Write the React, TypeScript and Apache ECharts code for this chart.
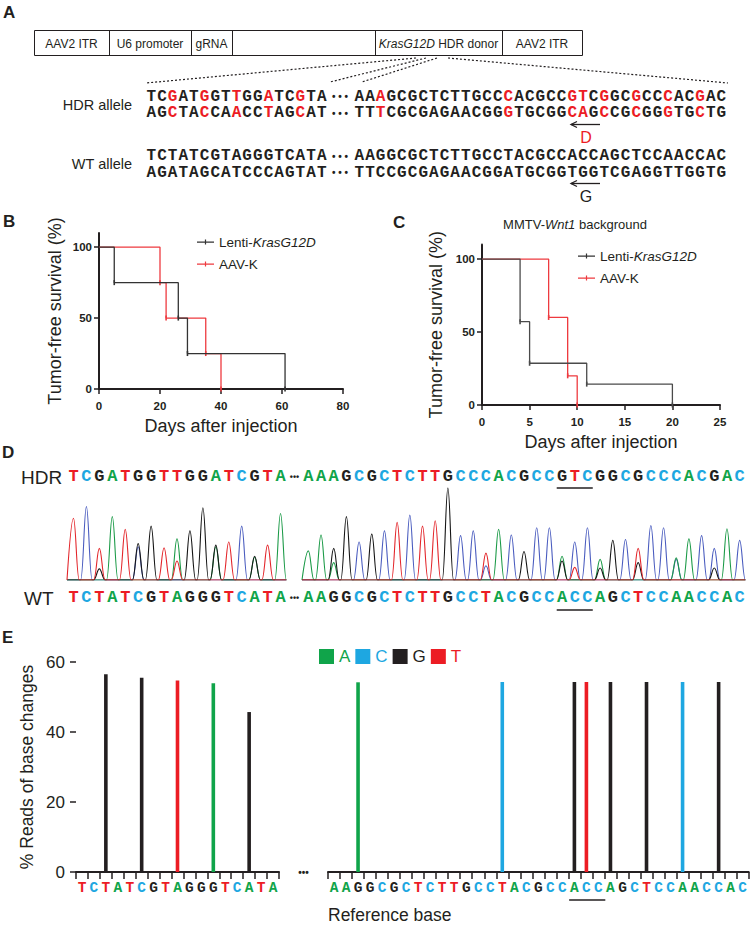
import React, { useEffect, useRef } from 'react';
import * as echarts from 'echarts';

const FONT = "'Liberation Sans', Arial, sans-serif";
const MONO = "'Liberation Mono', 'Courier New', monospace";
const INK = '#231f20';
const RED = '#ec1c24';
const BASE_COLORS: Record<string, string> = { A: '#10a44a', C: '#1ea7e1', G: '#231f20', T: '#ec1c24' };
const TRACE_COLORS: Record<string, string> = { A: '#1b9a47', C: '#4a5cbf', G: '#151515', T: '#e3262b' };

// ---------- Panel A ----------
const vectorParts = ['AAV2 ITR', 'U6 promoter', 'gRNA', '', 'KrasG12D HDR donor', 'AAV2 ITR'];
const hdrTop = ['TCGATGGTTGGATCGTA', 'AAAGCGCTCTTGCCCACGCCGTCGGCGCCCACGAC'];
const hdrBottom = ['AGCTACCAACCTAGCAT', 'TTTCGCGAGAACGGGTGCGGCAGCCGCGGGTGCTG'];
const wtTop = ['TCTATCGTAGGGTCATA', 'AAGGCGCTCTTGCCTACGCCACCAGCTCCAACCAC'];
const wtBottom = ['AGATAGCATCCCAGTAT', 'TTCCGCGAGAACGGATGCGGTGGTCGAGGTTGGTG'];

// ---------- Panel B ----------
const bLentiDays = [0, 5, 26, 29, 61];
const bLentiSurv = [100, 75, 50, 25, 0];
const bAavDays = [0, 20, 22, 35, 40];
const bAavSurv = [100, 75, 50, 25, 0];

// ---------- Panel C ----------
const cLentiDays = [0, 4, 5, 11, 20];
const cLentiSurv = [100, 57.1, 28.6, 14.3, 0];
const cAavDays = [0, 7, 9, 10];
const cAavSurv = [100, 60, 20, 0];

// ---------- Panel D (peak heights per base, per channel) ----------
const dLeftA = [0, 0, 0, 200, 0, 0, 0, 0, 130, 0, 0, 105, 0, 0, 72, 0, 210];
const dLeftC = [0, 232, 0, 0, 0, 105, 0, 0, 0, 0, 0, 0, 0, 170, 0, 0, 0];
const dLeftG = [0, 0, 35, 0, 0, 115, 170, 0, 0, 155, 228, 110, 0, 0, 75, 0, 0];
const dLeftT = [195, 0, 100, 0, 160, 0, 0, 102, 60, 0, 0, 0, 120, 0, 0, 110, 0];
const dRightA = [92, 142, 55, 0, 0, 0, 0, 0, 0, 0, 0, 0, 0, 0, 0, 160, 0, 0, 0, 0, 75, 0, 0, 65, 0, 0, 0, 0, 0, 70, 130, 0, 0, 162, 0];
const dRightC = [0, 0, 0, 0, 120, 0, 155, 0, 205, 0, 0, 0, 140, 155, 45, 0, 142, 0, 165, 165, 0, 120, 165, 0, 0, 128, 0, 172, 165, 65, 0, 140, 100, 0, 125];
const dRightG = [0, 0, 100, 200, 0, 145, 0, 0, 0, 0, 0, 290, 0, 0, 0, 0, 0, 90, 0, 0, 60, 0, 0, 38, 125, 0, 55, 0, 0, 0, 0, 0, 38, 0, 0];
const dRightT = [0, 0, 0, 0, 0, 0, 0, 182, 0, 170, 187, 0, 0, 0, 85, 0, 0, 0, 0, 0, 0, 40, 0, 0, 0, 0, 100, 0, 0, 0, 0, 0, 0, 0, 0];
const codonStart = 20; // 0-based index of underlined codon in the right segment
const codonLength = 3;

// ---------- Panel E ----------
const eLeftRef = 'TCTATCGTAGGGTCATA';
const eLeftAlt = 'TCGATGGTTGGATCGTA';
const eLeftPct = [56.5, 55.5, 54.7, 53.9, 45.7];
const eRightRef = 'AAGGCGCTCTTGCCTACGCCACCAGCTCCAACCAC';
const eRightAlt = 'AAAGCGCTCTTGCCCACGCCGTCGGCGCCCACGAC';
const eRightPct = [54.2, 54.3, 54.3, 54.3, 54.3, 54.3, 54.3, 54.3];
const eYTicks = [0, 20, 40, 60];

// ---------- layout ----------
const G_B = { left: 99, top: 233, width: 244, height: 156 };
const G_C = { left: 482, top: 244.5, width: 238, height: 160.5 };
const G_DL = { left: 67, top: 485, width: 220, height: 95 };
const G_DR = { left: 302, top: 485, width: 444, height: 95 };
const G_EL = { left: 76, top: 662, width: 203, height: 210 };
const G_ER = { left: 328, top: 662, width: 422, height: 210 };
const VEC_EDGES = [34, 109, 191, 232, 375, 502, 582];
const SEQ_CW = 10.65;
const SEQ_FS = 16;

function richSeq(seq: string, ref: string) {
  let out = '';
  for (let i = 0; i < seq.length; i++) {
    const k = seq[i] !== ref[i] ? 'r' : 'k';
    out += `{${k}|${seq[i]}}`;
  }
  return out;
}

const seqTok = (fill: string) => ({
  fill, fontFamily: MONO, fontWeight: 'bold', fontSize: SEQ_FS, lineHeight: 14, width: SEQ_CW, align: 'center',
});

function seqRow(seqs: string[], refs: string[], y: number) {
  const base = { font: `bold ${SEQ_FS}px ${MONO}`, lineHeight: 14, align: 'left', verticalAlign: 'middle', textAlign: 'left', textVerticalAlign: 'middle' };
  return [
    { type: 'text', x: 146, y, style: { ...base, text: richSeq(seqs[0], refs[0]), rich: { r: seqTok(RED), k: seqTok(INK) } } },
    { type: 'text', x: 340, y, style: { text: '• • •', fill: INK, font: `bold 10px ${FONT}`, lineHeight: 10, align: 'center', verticalAlign: 'middle', textAlign: 'center', textVerticalAlign: 'middle' } },
    { type: 'text', x: 354, y, style: { ...base, text: richSeq(seqs[1], refs[1]), rich: { r: seqTok(RED), k: seqTok(INK) } } },
  ];
}

function txt(x: number, y: number, text: string, size: number, opts: any = {}) {
  return {
    type: 'text', x, y,
    style: {
      text, fill: opts.fill || INK, font: `${opts.weight || 'normal'} ${size}px ${opts.family || FONT}`,
      align: opts.align || 'left', verticalAlign: 'middle', textAlign: opts.align || 'left', textVerticalAlign: 'middle',
      rich: opts.rich, lineHeight: opts.lineHeight,
    },
  };
}

function arrow(x1: number, x2: number, y: number) {
  return [
    { type: 'line', shape: { x1, y1: y, x2, y2: y }, style: { stroke: INK, lineWidth: 1.3 } },
    { type: 'polyline', shape: { points: [[x1 + 6, y - 3], [x1, y], [x1 + 6, y + 3]] }, style: { stroke: INK, lineWidth: 1.3, fill: 'none' } },
  ];
}

function kmData(days: number[], surv: number[]) {
  return days.map((d, i) => (i === 0 ? { value: [d, surv[i]], symbol: 'none' } : [d, surv[i]]));
}

function kmSeries(name: string, days: number[], surv: number[], idx: number, color: string, z: number) {
  return {
    type: 'line', name, xAxisIndex: idx, yAxisIndex: idx, data: kmData(days, surv), step: 'end',
    color, lineStyle: { color, width: 1.3 }, itemStyle: { color },
    symbol: 'rect', symbolSize: [1.6, 5], showSymbol: true, z, silent: true,
  };
}

function traceSeries(h: number[], base: string, xIdx: number, yIdx: number, z: number) {
  const pts: number[][] = [[0, 0]];
  h.forEach((v, i) => { pts.push([i + 0.05, 0], [i + 0.5, v], [i + 0.95, 0]); });
  pts.push([h.length, 0]);
  return {
    type: 'line', name: `trace-${base}-${xIdx}`, xAxisIndex: xIdx, yAxisIndex: yIdx, data: pts,
    smooth: 0.4, showSymbol: false, symbol: 'none', silent: true, z,
    lineStyle: { color: TRACE_COLORS[base], width: 1.1 },
  };
}

function barSeries(ref: string, alt: string, pct: number[], base: string, xIdx: number, yIdx: number) {
  let k = 0;
  const data = ref.split('').map((c, i) => {
    if (c === alt[i]) return null;
    const v = pct[k++];
    return alt[i] === base ? v : null;
  });
  return {
    type: 'bar', name: base, xAxisIndex: xIdx, yAxisIndex: yIdx, data, barWidth: 3.6, barGap: '-100%',
    itemStyle: { color: BASE_COLORS[base] }, silent: true,
  };
}

const letterRich = (size: number) => {
  const r: any = {};
  Object.keys(BASE_COLORS).forEach((b) => {
    r[b] = { color: BASE_COLORS[b], fontFamily: MONO, fontWeight: 'bold', fontSize: size };
  });
  return r;
};

const cats = (s: string) => s.split('').map((c, i) => c + i);

function seqAxis(gridIndex: number, seq: string, position: string, margin: number, size: number, showLine: boolean) {
  return {
    type: 'category', gridIndex, position, data: cats(seq),
    axisLine: { show: showLine, onZero: false, lineStyle: { color: INK, width: 2 } },
    axisTick: { show: showLine, interval: 0, length: 7, lineStyle: { color: INK, width: 1.5 } },
    axisLabel: { interval: 0, margin, formatter: (v: string) => `{${v[0]}|${v[0]}}`, rich: letterRich(size) },
    splitLine: { show: false },
  };
}

function kmX(gridIndex: number, max: number, interval: number, nameGap: number) {
  return {
    type: 'value', gridIndex, min: 0, max, interval,
    axisLine: { show: true, onZero: false, lineStyle: { color: INK, width: 2 } },
    axisTick: { show: true, length: 5, lineStyle: { color: INK, width: 1.5 } },
    axisLabel: { fontFamily: FONT, fontWeight: 'bold', fontSize: 11.5, color: INK, margin: 11 },
    splitLine: { show: false },
    name: 'Days after injection', nameLocation: 'middle', nameGap,
    nameTextStyle: { fontFamily: FONT, fontSize: 18, color: INK },
  };
}

function kmY(gridIndex: number, nameGap: number) {
  return {
    type: 'value', gridIndex, min: 0, max: 110,
    axisLine: { show: true, onZero: false, lineStyle: { color: INK, width: 2 } },
    axisTick: { show: true, length: 5, customValues: [0, 50, 100], lineStyle: { color: INK, width: 1.5 } },
    axisLabel: { customValues: [0, 50, 100], fontFamily: FONT, fontWeight: 'bold', fontSize: 11.5, color: INK, margin: 7 },
    splitLine: { show: false },
    name: 'Tumor-free survival (%)', nameLocation: 'middle', nameGap,
    nameTextStyle: { fontFamily: FONT, fontSize: 18, color: INK },
  };
}

const kmLegendIcon = 'path://M0,2 L17,2 L17,3.2 L0,3.2 Z M7.9,0 L9.1,0 L9.1,5 L7.9,5 Z';

function kmLegend(left: number, top: number) {
  return {
    left, top, orient: 'vertical', itemGap: 8, itemWidth: 17, itemHeight: 5, icon: kmLegendIcon,
    padding: 0, selectedMode: false, data: ['Lenti-KrasG12D', 'AAV-K'],
    formatter: (n: string) => (n === 'Lenti-KrasG12D' ? '{n|Lenti-}{i|KrasG12D}' : `{n|${n}}`),
    textStyle: {
      color: INK, fontFamily: FONT, fontSize: 13.5,
      rich: {
        n: { color: INK, fontFamily: FONT, fontSize: 13.5, lineHeight: 14 },
        i: { color: INK, fontFamily: FONT, fontSize: 13.5, fontStyle: 'italic', lineHeight: 14 },
      },
    },
  };
}

function buildOption() {
  const g: any[] = [];
  // panel letters
  [['A', 3, 12], ['B', 3, 221], ['C', 393, 222], ['D', 2, 452], ['E', 2, 637]].forEach(([t, x, y]) => {
    g.push(txt(x as number, y as number, t as string, 17, { weight: 'bold' }));
  });
  // vector box
  g.push({ type: 'rect', shape: { x: VEC_EDGES[0] + 0.5, y: 30.5, width: VEC_EDGES[6] - VEC_EDGES[0], height: 25 }, style: { fill: 'none', stroke: INK, lineWidth: 1 } });
  for (let i = 1; i < VEC_EDGES.length - 1; i++) {
    g.push({ type: 'line', shape: { x1: VEC_EDGES[i] + 0.5, y1: 30.5, x2: VEC_EDGES[i] + 0.5, y2: 55.5 }, style: { stroke: INK, lineWidth: 1 } });
  }
  vectorParts.forEach((p, i) => {
    if (!p) return;
    const cx = (VEC_EDGES[i] + VEC_EDGES[i + 1]) / 2;
    if (p.startsWith('KrasG12D')) {
      g.push(txt(cx, 43.5, '{i|KrasG12D}{n| HDR donor}', 12, {
        align: 'center',
        rich: { i: { fill: INK, fontFamily: FONT, fontSize: 12, fontStyle: 'italic' }, n: { fill: INK, fontFamily: FONT, fontSize: 12 } },
      }));
    } else {
      g.push(txt(cx, 43.5, p, 12, { align: 'center' }));
    }
  });
  // dotted zoom lines
  [[416, 146, 83], [426, 330, 82], [437, 362, 82], [448, 728, 83]].forEach(([x1, x2, y2]) => {
    g.push({ type: 'line', shape: { x1, y1: 58, x2, y2 }, style: { stroke: INK, lineWidth: 1.2, lineDash: [2, 2] } });
  });
  // allele labels and sequences
  g.push(txt(132, 105, 'HDR allele', 14.5, { align: 'right' }));
  g.push(txt(132, 164, 'WT allele', 14.5, { align: 'right' }));
  g.push(...seqRow(hdrTop, wtTop, 96.5));
  g.push(...seqRow(hdrBottom, wtBottom, 113));
  g.push(...seqRow(wtTop, wtTop, 156));
  g.push(...seqRow(wtBottom, wtBottom, 172.5));
  g.push(...arrow(571, 600, 124.5));
  g.push(txt(586, 137.5, 'D', 16, { align: 'center', fill: RED, lineHeight: 14 }));
  g.push(...arrow(571, 600, 183.5));
  g.push(txt(586, 196.5, 'G', 16, { align: 'center', lineHeight: 14 }));
  // panel C title
  g.push(txt(575, 224, '{n|MMTV-}{i|Wnt1}{n| background}', 13, {
    align: 'center',
    rich: { n: { fill: INK, fontFamily: FONT, fontSize: 13 }, i: { fill: INK, fontFamily: FONT, fontSize: 13, fontStyle: 'italic' } },
  }));
  // panel D labels
  g.push(txt(21, 477, 'HDR', 19));
  g.push(txt(24, 598, 'WT', 19));
  const dotX = (G_DL.left + G_DL.width + G_DR.left) / 2;
  g.push(txt(dotX, 477, '•••', 9, { align: 'center', weight: 'bold' }));
  g.push(txt(dotX, 598, '•••', 9, { align: 'center', weight: 'bold' }));
  const cwD = G_DR.width / dRightA.length;
  const ux1 = G_DR.left + codonStart * cwD + 1;
  const ux2 = G_DR.left + (codonStart + codonLength) * cwD - 1;
  g.push({ type: 'line', shape: { x1: ux1, y1: 488, x2: ux2, y2: 488 }, style: { stroke: INK, lineWidth: 1.3 } });
  g.push({ type: 'line', shape: { x1: ux1, y1: 610, x2: ux2, y2: 610 }, style: { stroke: INK, lineWidth: 1.3 } });
  // panel E
  g.push(txt((G_EL.left + G_EL.width + G_ER.left) / 2, 872, '•••', 10, { align: 'center', weight: 'bold' }));
  const cwE = G_ER.width / eRightRef.length;
  g.push({ type: 'line', shape: { x1: G_ER.left + codonStart * cwE, y1: 900, x2: G_ER.left + (codonStart + codonLength) * cwE, y2: 900 }, style: { stroke: INK, lineWidth: 1.3 } });
  g.push(txt(G_ER.left, 915, 'Reference base', 17.5, { lineHeight: 18 }));

  const hiddenVal = (gridIndex: number, max: number) => ({ type: 'value', gridIndex, min: 0, max, show: false, splitLine: { show: false } });

  return {
    animation: false,
    backgroundColor: '#ffffff',
    textStyle: { fontFamily: FONT },
    grid: [G_B, G_C, G_DL, G_DR, G_EL, G_ER].map((gr) => ({ ...gr, containLabel: false })),
    xAxis: [
      kmX(0, 80, 20, 28),
      kmX(1, 25, 5, 28),
      hiddenVal(2, dLeftA.length),
      seqAxis(2, hdrTop[0], 'top', 0, 17, false),
      seqAxis(2, wtTop[0], 'bottom', 9, 17, false),
      hiddenVal(3, dRightA.length),
      seqAxis(3, hdrTop[1], 'top', 0, 17, false),
      seqAxis(3, wtTop[1], 'bottom', 9, 17, false),
      seqAxis(4, eLeftRef, 'bottom', 8, 14.5, true),
      seqAxis(5, eRightRef, 'bottom', 8, 14.5, true),
    ],
    yAxis: [
      kmY(0, 35),
      kmY(1, 37),
      { type: 'value', gridIndex: 2, min: 0, max: 300, show: false, splitLine: { show: false } },
      { type: 'value', gridIndex: 3, min: 0, max: 300, show: false, splitLine: { show: false } },
      {
        type: 'value', gridIndex: 4, min: eYTicks[0], max: eYTicks[eYTicks.length - 1], interval: 20,
        axisLine: { show: false },
        axisTick: { show: true, length: 6, lineStyle: { color: INK, width: 1.5 } },
        axisLabel: { fontFamily: FONT, fontSize: 17, color: INK, margin: 11 },
        splitLine: { show: false },
        name: '% Reads of base changes', nameLocation: 'middle', nameGap: 40,
        nameTextStyle: { fontFamily: FONT, fontSize: 17.5, color: INK },
      },
      { type: 'value', gridIndex: 5, min: eYTicks[0], max: eYTicks[eYTicks.length - 1], show: false, splitLine: { show: false } },
    ],
    legend: [
      kmLegend(197, 235),
      kmLegend(578, 249),
      {
        left: 319, top: 648, orient: 'horizontal', itemGap: 5, itemWidth: 15, itemHeight: 15, icon: 'rect',
        padding: 0, selectedMode: false,
        data: ['A', 'C', 'G', 'T'].map((b) => ({ name: b, textStyle: { color: BASE_COLORS[b] } })),
        textStyle: { fontFamily: FONT, fontSize: 17 },
      },
    ],
    series: [
      kmSeries('AAV-K', bAavDays, bAavSurv, 0, '#ee3a3f', 2),
      kmSeries('Lenti-KrasG12D', bLentiDays, bLentiSurv, 0, '#333333', 3),
      kmSeries('AAV-K', cAavDays, cAavSurv, 1, '#ee3a3f', 2),
      kmSeries('Lenti-KrasG12D', cLentiDays, cLentiSurv, 1, '#4a4a4a', 3),
      traceSeries(dLeftC, 'C', 2, 2, 2),
      traceSeries(dLeftA, 'A', 2, 2, 3),
      traceSeries(dLeftG, 'G', 2, 2, 4),
      traceSeries(dLeftT, 'T', 2, 2, 5),
      traceSeries(dRightC, 'C', 5, 3, 2),
      traceSeries(dRightA, 'A', 5, 3, 3),
      traceSeries(dRightG, 'G', 5, 3, 4),
      traceSeries(dRightT, 'T', 5, 3, 5),
      ...['A', 'C', 'G', 'T'].map((b) => barSeries(eLeftRef, eLeftAlt, eLeftPct, b, 8, 4)),
      ...['A', 'C', 'G', 'T'].map((b) => barSeries(eRightRef, eRightAlt, eRightPct, b, 9, 5)),
    ],
    graphic: { elements: g },
  };
}

export default function App() {
  const ref = useRef<HTMLDivElement>(null);
  useEffect(() => {
    if (!ref.current) return;
    const chart = echarts.init(ref.current, null, { renderer: 'svg' });
    chart.setOption(buildOption() as any);
    return () => chart.dispose();
  }, []);
  return (
    <div
      ref={ref}
      style={{ position: 'absolute', left: 0, top: 0, width: 750, height: 925, background: '#fff' }}
    />
  );
}
